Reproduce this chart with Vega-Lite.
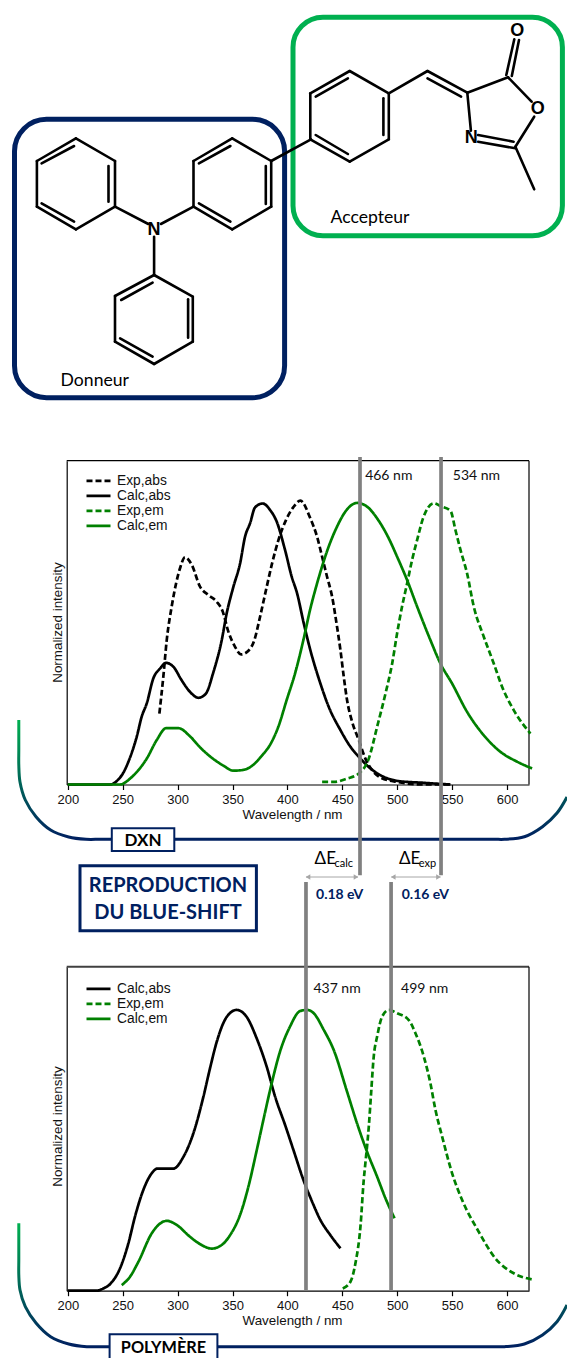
{"$schema":"https://vega.github.io/schema/vega-lite/v6.json","width":567,"height":1358,"autosize":"none","padding":0,"background":"white","config":{"view":{"stroke":null},"text":{"font":"Lato"}},
"datasets":{
"dxn":[
{"series":"Calc,abs","w":200,"v":0},{"series":"Calc,abs","w":238.5,"v":0},{"series":"Calc,abs","w":244.5,"v":0.012},{"series":"Calc,abs","w":250.6,"v":0.042},{"series":"Calc,abs","w":255.2,"v":0.081},{"series":"Calc,abs","w":262.8,"v":0.17},{"series":"Calc,abs","w":267.3,"v":0.241},{"series":"Calc,abs","w":271.9,"v":0.288},{"series":"Calc,abs","w":277.9,"v":0.377},{"series":"Calc,abs","w":284,"v":0.412},{"series":"Calc,abs","w":289.5,"v":0.432},{"series":"Calc,abs","w":296.2,"v":0.418},{"series":"Calc,abs","w":303.7,"v":0.37},{"series":"Calc,abs","w":311.3,"v":0.329},{"series":"Calc,abs","w":318.9,"v":0.308},{"series":"Calc,abs","w":325.6,"v":0.322},{"series":"Calc,abs","w":332.6,"v":0.399},{"series":"Calc,abs","w":340.2,"v":0.513},{"series":"Calc,abs","w":344.7,"v":0.608},{"series":"Calc,abs","w":350.8,"v":0.702},{"series":"Calc,abs","w":356.9,"v":0.785},{"series":"Calc,abs","w":361.4,"v":0.88},{"series":"Calc,abs","w":366,"v":0.928},{"series":"Calc,abs","w":370.5,"v":0.984},{"series":"Calc,abs","w":377.5,"v":0.998},{"series":"Calc,abs","w":384.2,"v":0.975},{"series":"Calc,abs","w":390.3,"v":0.933},{"series":"Calc,abs","w":397.9,"v":0.832},{"series":"Calc,abs","w":403.9,"v":0.738},{"series":"Calc,abs","w":408.8,"v":0.679},{"series":"Calc,abs","w":414.9,"v":0.572},{"series":"Calc,abs","w":420.9,"v":0.477},{"series":"Calc,abs","w":430,"v":0.359},{"series":"Calc,abs","w":437.6,"v":0.276},{"series":"Calc,abs","w":448.3,"v":0.193},{"series":"Calc,abs","w":457.4,"v":0.134},{"series":"Calc,abs","w":466.5,"v":0.092},{"series":"Calc,abs","w":475.6,"v":0.057},{"series":"Calc,abs","w":484.7,"v":0.033},{"series":"Calc,abs","w":499.9,"v":0.013},{"series":"Calc,abs","w":524.2,"v":0.006},{"series":"Calc,abs","w":548.5,"v":0},
{"series":"Exp,abs","w":283.4,"v":0.252},{"series":"Exp,abs","w":287,"v":0.383},{"series":"Exp,abs","w":290.1,"v":0.513},{"series":"Exp,abs","w":294.6,"v":0.632},{"series":"Exp,abs","w":298.6,"v":0.714},{"series":"Exp,abs","w":302.2,"v":0.768},{"series":"Exp,abs","w":306.8,"v":0.807},{"series":"Exp,abs","w":312.9,"v":0.78},{"series":"Exp,abs","w":320.4,"v":0.703},{"series":"Exp,abs","w":328,"v":0.673},{"series":"Exp,abs","w":335.6,"v":0.649},{"series":"Exp,abs","w":341.1,"v":0.614},{"series":"Exp,abs","w":346.2,"v":0.543},{"series":"Exp,abs","w":352.3,"v":0.489},{"series":"Exp,abs","w":357.8,"v":0.462},{"series":"Exp,abs","w":364.5,"v":0.475},{"series":"Exp,abs","w":369.9,"v":0.513},{"series":"Exp,abs","w":375.1,"v":0.596},{"series":"Exp,abs","w":381.2,"v":0.703},{"series":"Exp,abs","w":385.7,"v":0.78},{"series":"Exp,abs","w":391.8,"v":0.868},{"series":"Exp,abs","w":398.8,"v":0.94},{"series":"Exp,abs","w":405.4,"v":0.985},{"series":"Exp,abs","w":411.8,"v":1.008},{"series":"Exp,abs","w":420.9,"v":0.945},{"series":"Exp,abs","w":427,"v":0.88},{"series":"Exp,abs","w":431.6,"v":0.809},{"series":"Exp,abs","w":436.1,"v":0.738},{"series":"Exp,abs","w":440.7,"v":0.667},{"series":"Exp,abs","w":445.2,"v":0.56},{"series":"Exp,abs","w":448.3,"v":0.477},{"series":"Exp,abs","w":451.3,"v":0.383},{"series":"Exp,abs","w":454.3,"v":0.3},{"series":"Exp,abs","w":458.9,"v":0.223},{"series":"Exp,abs","w":465,"v":0.158},{"series":"Exp,abs","w":471,"v":0.092},{"series":"Exp,abs","w":477.1,"v":0.051},{"series":"Exp,abs","w":484.7,"v":0.025},{"series":"Exp,abs","w":499.9,"v":0.009},{"series":"Exp,abs","w":524.2,"v":0},{"series":"Exp,abs","w":548.5,"v":0},
{"series":"Exp,em","w":431.6,"v":0.009},{"series":"Exp,em","w":442.2,"v":0.009},{"series":"Exp,em","w":454.3,"v":0.021},{"series":"Exp,em","w":465,"v":0.039},{"series":"Exp,em","w":474.1,"v":0.092},{"series":"Exp,em","w":481.7,"v":0.205},{"series":"Exp,em","w":489.3,"v":0.323},{"series":"Exp,em","w":495.4,"v":0.43},{"series":"Exp,em","w":499.9,"v":0.537},{"series":"Exp,em","w":504.4,"v":0.632},{"series":"Exp,em","w":509,"v":0.714},{"series":"Exp,em","w":513.5,"v":0.797},{"series":"Exp,em","w":518.1,"v":0.868},{"series":"Exp,em","w":523.5,"v":0.945},{"series":"Exp,em","w":533.3,"v":0.999},{"series":"Exp,em","w":539.3,"v":0.989},{"series":"Exp,em","w":548.5,"v":0.972},{"series":"Exp,em","w":553,"v":0.904},{"series":"Exp,em","w":557.6,"v":0.833},{"series":"Exp,em","w":563.6,"v":0.75},{"series":"Exp,em","w":569.7,"v":0.632},{"series":"Exp,em","w":578.8,"v":0.525},{"series":"Exp,em","w":587.9,"v":0.43},{"series":"Exp,em","w":595.5,"v":0.347},{"series":"Exp,em","w":606.1,"v":0.264},{"series":"Exp,em","w":621.3,"v":0.181},
{"series":"Calc,em","w":200,"v":0},{"series":"Calc,em","w":247.6,"v":0},{"series":"Calc,em","w":256.7,"v":0.021},{"series":"Calc,em","w":264.3,"v":0.051},{"series":"Calc,em","w":271.9,"v":0.092},{"series":"Calc,em","w":281,"v":0.158},{"series":"Calc,em","w":289.5,"v":0.2},{"series":"Calc,em","w":300.7,"v":0.2},{"series":"Calc,em","w":311.3,"v":0.171},{"series":"Calc,em","w":320.4,"v":0.132},{"series":"Calc,em","w":329.5,"v":0.1},{"series":"Calc,em","w":341.7,"v":0.067},{"series":"Calc,em","w":350.8,"v":0.049},{"series":"Calc,em","w":359.9,"v":0.052},{"series":"Calc,em","w":369,"v":0.07},{"series":"Calc,em","w":376.6,"v":0.102},{"series":"Calc,em","w":384.2,"v":0.141},{"series":"Calc,em","w":391.8,"v":0.206},{"series":"Calc,em","w":399.4,"v":0.301},{"series":"Calc,em","w":407,"v":0.395},{"series":"Calc,em","w":414.6,"v":0.514},{"series":"Calc,em","w":420.6,"v":0.62},{"series":"Calc,em","w":427,"v":0.714},{"series":"Calc,em","w":437.6,"v":0.845},{"series":"Calc,em","w":445.2,"v":0.916},{"series":"Calc,em","w":454.3,"v":0.977},{"series":"Calc,em","w":463.4,"v":1},{"series":"Calc,em","w":472.5,"v":0.987},{"series":"Calc,em","w":481.7,"v":0.945},{"series":"Calc,em","w":492.3,"v":0.874},{"series":"Calc,em","w":499.9,"v":0.809},{"series":"Calc,em","w":509,"v":0.726},{"series":"Calc,em","w":518.1,"v":0.632},{"series":"Calc,em","w":530.2,"v":0.513},{"series":"Calc,em","w":539.3,"v":0.43},{"series":"Calc,em","w":549.9,"v":0.359},{"series":"Calc,em","w":563.6,"v":0.258},{"series":"Calc,em","w":578.8,"v":0.175},{"series":"Calc,em","w":594,"v":0.116},{"series":"Calc,em","w":609.2,"v":0.081},{"series":"Calc,em","w":622.8,"v":0.057}],
"polymer":[
{"series":"Calc,abs","w":200,"v":0},{"series":"Calc,abs","w":226.3,"v":0},{"series":"Calc,abs","w":232.4,"v":0.008},{"series":"Calc,abs","w":239.1,"v":0.026},{"series":"Calc,abs","w":247.6,"v":0.08},{"series":"Calc,abs","w":255.2,"v":0.169},{"series":"Calc,abs","w":261.2,"v":0.264},{"series":"Calc,abs","w":268.8,"v":0.359},{"series":"Calc,abs","w":276.4,"v":0.418},{"series":"Calc,abs","w":281.6,"v":0.435},{"series":"Calc,abs","w":296.2,"v":0.435},{"series":"Calc,abs","w":305.3,"v":0.477},{"series":"Calc,abs","w":314.4,"v":0.561},{"series":"Calc,abs","w":323.5,"v":0.691},{"series":"Calc,abs","w":329.5,"v":0.792},{"series":"Calc,abs","w":335.6,"v":0.886},{"series":"Calc,abs","w":344.7,"v":0.975},{"series":"Calc,abs","w":353.8,"v":1},{"series":"Calc,abs","w":362.9,"v":0.975},{"series":"Calc,abs","w":372.1,"v":0.898},{"series":"Calc,abs","w":381.2,"v":0.797},{"series":"Calc,abs","w":388.8,"v":0.691},{"series":"Calc,abs","w":397.9,"v":0.59},{"series":"Calc,abs","w":405.5,"v":0.501},{"series":"Calc,abs","w":414.6,"v":0.394},{"series":"Calc,abs","w":422.5,"v":0.317},{"series":"Calc,abs","w":430,"v":0.252},{"series":"Calc,abs","w":439.1,"v":0.198},{"series":"Calc,abs","w":448.3,"v":0.151},
{"series":"Exp,em","w":450.4,"v":0.008},{"series":"Exp,em","w":457.4,"v":0.032},{"series":"Exp,em","w":461.9,"v":0.097},{"series":"Exp,em","w":466.5,"v":0.228},{"series":"Exp,em","w":469.5,"v":0.394},{"series":"Exp,em","w":471,"v":0.454},{"series":"Exp,em","w":474.1,"v":0.584},{"series":"Exp,em","w":476.2,"v":0.703},{"series":"Exp,em","w":478.6,"v":0.834},{"series":"Exp,em","w":481.7,"v":0.905},{"series":"Exp,em","w":486.2,"v":0.976},{"series":"Exp,em","w":492.3,"v":1},{"series":"Exp,em","w":499.9,"v":0.988},{"series":"Exp,em","w":510.5,"v":0.964},{"series":"Exp,em","w":516.6,"v":0.917},{"series":"Exp,em","w":524.2,"v":0.834},{"series":"Exp,em","w":530.2,"v":0.739},{"series":"Exp,em","w":534.8,"v":0.644},{"series":"Exp,em","w":540.9,"v":0.549},{"series":"Exp,em","w":550,"v":0.418},{"series":"Exp,em","w":559.1,"v":0.323},{"series":"Exp,em","w":574.2,"v":0.21},{"series":"Exp,em","w":589.4,"v":0.115},{"series":"Exp,em","w":606.1,"v":0.062},{"series":"Exp,em","w":622.8,"v":0.04},
{"series":"Calc,em","w":249.1,"v":0.02},{"series":"Calc,em","w":256.7,"v":0.05},{"series":"Calc,em","w":264.3,"v":0.103},{"series":"Calc,em","w":276.4,"v":0.204},{"series":"Calc,em","w":282.5,"v":0.234},{"series":"Calc,em","w":290.1,"v":0.249},{"series":"Calc,em","w":299.2,"v":0.234},{"series":"Calc,em","w":311.3,"v":0.192},{"series":"Calc,em","w":320.4,"v":0.166},{"series":"Calc,em","w":331.1,"v":0.15},{"series":"Calc,em","w":340.2,"v":0.163},{"series":"Calc,em","w":347.8,"v":0.198},{"series":"Calc,em","w":356.9,"v":0.27},{"series":"Calc,em","w":364.5,"v":0.371},{"series":"Calc,em","w":372.1,"v":0.501},{"series":"Calc,em","w":378.1,"v":0.608},{"series":"Calc,em","w":385.7,"v":0.739},{"series":"Calc,em","w":393.3,"v":0.852},{"series":"Calc,em","w":402.4,"v":0.941},{"series":"Calc,em","w":411.5,"v":0.996},{"series":"Calc,em","w":417.9,"v":1},{"series":"Calc,em","w":424,"v":0.988},{"series":"Calc,em","w":433.1,"v":0.929},{"series":"Calc,em","w":442.2,"v":0.857},{"series":"Calc,em","w":454.3,"v":0.709},{"series":"Calc,em","w":463.4,"v":0.596},{"series":"Calc,em","w":472.5,"v":0.495},{"series":"Calc,em","w":481.7,"v":0.406},{"series":"Calc,em","w":489.3,"v":0.329},{"series":"Calc,em","w":497.5,"v":0.258}],
"bonds":[
{"x":75.9,"y":138.3,"x2":115,"y2":161},{"x":115,"y":161,"x2":115,"y2":206.7},{"x":115,"y":206.7,"x2":75.9,"y2":229.3},{"x":75.9,"y":229.3,"x2":36.9,"y2":206.7},{"x":36.9,"y":206.7,"x2":36.9,"y2":161},{"x":36.9,"y":161,"x2":75.9,"y2":138.3},
{"x":41.6,"y":163.3,"x2":74.1,"y2":146},{"x":108.5,"y":166,"x2":108.5,"y2":201.7},{"x":41.6,"y":203.3,"x2":74.1,"y2":221.7},
{"x":232.2,"y":138.3,"x2":271.2,"y2":161},{"x":271.2,"y":161,"x2":271.2,"y2":206.7},{"x":271.2,"y":206.7,"x2":232.2,"y2":229.3},{"x":232.2,"y":229.3,"x2":193.5,"y2":206.7},{"x":193.5,"y":206.7,"x2":193.5,"y2":161},{"x":193.5,"y":161,"x2":232.2,"y2":138.3},
{"x":198.9,"y":163.3,"x2":230.4,"y2":146},{"x":265.8,"y":166,"x2":265.8,"y2":204},{"x":198.9,"y":203.3,"x2":230.4,"y2":221.7},
{"x":115,"y":206.7,"x2":148.3,"y2":224},{"x":193.5,"y":206.7,"x2":160.9,"y2":224},{"x":154.1,"y":236.7,"x2":154.1,"y2":275},
{"x":154.1,"y":275,"x2":192.8,"y2":296.7},{"x":192.8,"y":296.7,"x2":192.8,"y2":341.7},{"x":192.8,"y":341.7,"x2":154.1,"y2":364},{"x":154.1,"y":364,"x2":115,"y2":341.7},{"x":115,"y":341.7,"x2":115,"y2":296},{"x":115,"y":296,"x2":154.1,"y2":275},
{"x":121.2,"y":300,"x2":152.6,"y2":282.7},{"x":188.1,"y":299.3,"x2":188.1,"y2":337.7},{"x":120.1,"y":338.3,"x2":152.6,"y2":356.7},
{"x":271.2,"y":161,"x2":311,"y2":139.3},
{"x":349.7,"y":71,"x2":388.8,"y2":93.3},{"x":388.8,"y":93.3,"x2":388.8,"y2":139.3},{"x":388.8,"y":139.3,"x2":349.7,"y2":161.7},{"x":349.7,"y":161.7,"x2":310.3,"y2":139.3},{"x":310.3,"y":139.3,"x2":310.3,"y2":93.3},{"x":310.3,"y":93.3,"x2":349.7,"y2":71},
{"x":315.7,"y":96.7,"x2":347.9,"y2":78.3},{"x":383.4,"y":98.3,"x2":383.4,"y2":135},{"x":315.7,"y":135,"x2":347.9,"y2":154},
{"x":388.8,"y":93.3,"x2":427.5,"y2":71},{"x":427.5,"y":71,"x2":467.3,"y2":92.7},{"x":427.5,"y":78.3,"x2":461.1,"y2":96.7},
{"x":467.3,"y":92.7,"x2":508.1,"y2":77.3},{"x":508.1,"y":77.3,"x2":531.6,"y2":101.7},{"x":534.2,"y":116.7,"x2":515.4,"y2":146.7},{"x":515.4,"y":146.7,"x2":534.2,"y2":189.3},{"x":467.3,"y":92.7,"x2":470.9,"y2":130.7},
{"x":478.1,"y":135,"x2":513.6,"y2":141.7},{"x":478.1,"y":141.7,"x2":515.4,"y2":148.3},
{"x":506.3,"y":75,"x2":514.3,"y2":39.3},{"x":511.8,"y":76,"x2":519,"y2":40}],
"brackets":[
{"b":"DXN","i":0,"x":18.8,"y":720},{"b":"DXN","i":1,"x":18.8,"y":735},{"b":"DXN","i":2,"x":18.8,"y":750},{"b":"DXN","i":3,"x":18.8,"y":765},{"b":"DXN","i":4,"x":20,"y":782},{"b":"DXN","i":5,"x":25.3,"y":800},{"b":"DXN","i":6,"x":36,"y":816.7},{"b":"DXN","i":7,"x":50.6,"y":830},{"b":"DXN","i":8,"x":68.7,"y":837},{"b":"DXN","i":9,"x":86,"y":839.3},{"b":"DXN","i":10,"x":100,"y":839.3},{"b":"DXN","i":11,"x":115,"y":839.3},{"b":"DXN","i":12,"x":300,"y":839.3},{"b":"DXN","i":13,"x":480,"y":839.3},{"b":"DXN","i":14,"x":495,"y":839.3},{"b":"DXN","i":15,"x":504.5,"y":839.3},{"b":"DXN","i":16,"x":524.4,"y":836.7},{"b":"DXN","i":17,"x":542.5,"y":826.7},{"b":"DXN","i":18,"x":557,"y":813},{"b":"DXN","i":19,"x":567,"y":797},
{"b":"POL","i":0,"x":18.8,"y":1223.3},{"b":"POL","i":1,"x":18.8,"y":1240},{"b":"POL","i":2,"x":18.8,"y":1260},{"b":"POL","i":3,"x":18.8,"y":1275},{"b":"POL","i":4,"x":20,"y":1290},{"b":"POL","i":5,"x":25.3,"y":1306.7},{"b":"POL","i":6,"x":36,"y":1323},{"b":"POL","i":7,"x":50.6,"y":1336.7},{"b":"POL","i":8,"x":68.7,"y":1344},{"b":"POL","i":9,"x":86.8,"y":1346.7},{"b":"POL","i":10,"x":100,"y":1346.7},{"b":"POL","i":11,"x":115,"y":1346.7},{"b":"POL","i":12,"x":300,"y":1346.7},{"b":"POL","i":13,"x":480,"y":1346.7},{"b":"POL","i":14,"x":495,"y":1346.7},{"b":"POL","i":15,"x":504.5,"y":1346.7},{"b":"POL","i":16,"x":524.4,"y":1344},{"b":"POL","i":17,"x":542.5,"y":1335},{"b":"POL","i":18,"x":557,"y":1321.7},{"b":"POL","i":19,"x":567,"y":1305}]
},
"resolve":{"scale":{"x":"independent","y":"independent","color":"independent","strokeDash":"independent"},"axis":{"x":"independent","y":"independent"},"legend":{"color":"independent","strokeDash":"independent"}},
"layer":[
{"encoding":{"x":{"field":"x","type":"quantitative","scale":{"domain":[0,567],"range":[0,567],"nice":false,"zero":false},"axis":null},"y":{"field":"y","type":"quantitative","scale":{"domain":[0,1358],"range":[0,1358],"nice":false,"zero":false},"axis":null}},
"layer":[
{"data":{"values":[{"x":14.5,"x2":284.6,"y":119.3,"y2":397.7}]},"mark":{"type":"rect","fill":null,"fillOpacity":0,"stroke":"#002060","strokeWidth":5,"cornerRadius":32},"encoding":{"x2":{"field":"x2"},"y2":{"field":"y2"}}},
{"data":{"values":[{"x":293,"x2":562.4,"y":17.3,"y2":235.7}]},"mark":{"type":"rect","fill":null,"fillOpacity":0,"stroke":"#00B050","strokeWidth":5,"cornerRadius":30},"encoding":{"x2":{"field":"x2"},"y2":{"field":"y2"}}},
{"data":{"name":"bonds"},"mark":{"type":"rule","stroke":"black","strokeWidth":2.6,"strokeCap":"round"},"encoding":{"x2":{"field":"x2"},"y2":{"field":"y2"}}},
{"data":{"values":[{"x":154,"y":230,"label":"N"},{"x":471.3,"y":138.3,"label":"N"},{"x":537.8,"y":109,"label":"O"},{"x":517.2,"y":31,"label":"O"}]},"mark":{"type":"text","font":"Liberation Sans","fontWeight":"bold","fontSize":18,"align":"center","baseline":"middle","fill":"black"},"encoding":{"text":{"field":"label"}}},
{"data":{"values":[{"x":94.8,"y":380.7,"label":"Donneur"},{"x":370,"y":218.3,"label":"Accepteur"}]},"mark":{"type":"text","fontSize":17.6,"align":"center","baseline":"middle","fill":"black"},"encoding":{"text":{"field":"label"}}},
{"data":{"name":"brackets"},"mark":{"type":"line","interpolate":"catmull-rom","strokeWidth":3,"stroke":{"gradient":"linear","x1":0,"y1":0,"x2":0,"y2":1,"stops":[{"offset":0,"color":"#00B050"},{"offset":1,"color":"#002060"}]}},"encoding":{"detail":{"field":"b"},"order":{"field":"i"}}},
{"data":{"values":[{"x":111.8,"x2":174.3,"y":828.3,"y2":851},{"x":109.6,"x2":217.4,"y":1334.3,"y2":1366}]},"mark":{"type":"rect","fill":"white","stroke":"#002060","strokeWidth":2},"encoding":{"x2":{"field":"x2"},"y2":{"field":"y2"}}},
{"data":{"values":[{"x":143,"y":841,"label":"DXN"}]},"mark":{"type":"text","fontWeight":"bold","fontSize":17,"align":"center","baseline":"middle","fill":"black"},"encoding":{"text":{"field":"label"}}},
{"data":{"values":[{"x":163.5,"y":1348,"label":"POLYMÈRE"}]},"mark":{"type":"text","fontWeight":"bold","fontSize":16.3,"align":"center","baseline":"middle","fill":"black"},"encoding":{"text":{"field":"label"}}},
{"data":{"values":[{"x":80,"x2":256.4,"y":865.7,"y2":930.7}]},"mark":{"type":"rect","fill":"white","stroke":"#002060","strokeWidth":3},"encoding":{"x2":{"field":"x2"},"y2":{"field":"y2"}}},
{"data":{"values":[{"x":168,"y":885.5,"label":"REPRODUCTION"},{"x":168,"y":913,"label":"DU BLUE-SHIFT"}]},"mark":{"type":"text","fontWeight":"bold","fontSize":20,"align":"center","baseline":"middle","fill":"#002060"},"encoding":{"text":{"field":"label"}}},
{"data":{"values":[{"x":339.6,"y":895,"label":"0.18 eV"},{"x":425.3,"y":895,"label":"0.16 eV"}]},"mark":{"type":"text","fontWeight":"bold","fontSize":14,"align":"center","baseline":"middle","fill":"#002060"},"encoding":{"text":{"field":"label"}}},
{"data":{"values":[{"x":314.6,"y":859.3,"label":"ΔE"},{"x":399,"y":859.3,"label":"ΔE"}]},"mark":{"type":"text","fontSize":17,"align":"left","baseline":"middle","fill":"black"},"encoding":{"text":{"field":"label"}}},
{"data":{"values":[{"x":334.5,"y":864,"label":"calc"},{"x":418.8,"y":864,"label":"exp"}]},"mark":{"type":"text","fontSize":11,"align":"left","baseline":"middle","fill":"black"},"encoding":{"text":{"field":"label"}}},
{"data":{"values":[{"x":306,"x2":358,"y":877},{"x":391.3,"x2":440.5,"y":877}]},"mark":{"type":"rule","stroke":"#A6A6A6","strokeWidth":1},"encoding":{"x2":{"field":"x2"}}},
{"data":{"values":[{"x":308,"y":877},{"x":393.3,"y":877}]},"mark":{"type":"point","shape":"triangle-left","filled":true,"fill":"#A6A6A6","size":28,"opacity":1}},
{"data":{"values":[{"x":356,"y":877},{"x":438.5,"y":877}]},"mark":{"type":"point","shape":"triangle-right","filled":true,"fill":"#A6A6A6","size":28,"opacity":1}}
]},
{"encoding":{"x":{"field":"w","type":"quantitative","scale":{"domain":[199,620],"range":[66.7,529],"nice":false,"zero":false},"axis":{"orient":"bottom","offset":-573.5,"values":[200,250,300,350,400,450,500,550,600],"grid":false,"title":"Wavelength / nm","titleFont":"Liberation Sans","titleFontSize":13.4,"titleFontWeight":"normal","titleColor":"#111111","titleX":292,"titleY":29.5,"titleBaseline":"middle","labelFont":"Liberation Sans","labelFontSize":13,"labelColor":"#111111","labelPadding":4,"labelFlush":false,"labelOverlap":false,"tickSize":5,"tickColor":"black","tickWidth":1.2,"domainColor":"black","domainWidth":1.2}},"y":{"field":"v","type":"quantitative","scale":{"domain":[0,1.15],"range":[784.5,460.7],"nice":false,"zero":false},"axis":{"orient":"left","offset":-66.7,"values":[],"grid":false,"ticks":false,"labels":false,"title":"Normalized intensity","titleFont":"Liberation Sans","titleFontSize":13.4,"titleFontWeight":"normal","titleColor":"#111111","titleX":-9.4,"titleY":622,"titleAlign":"center","titleBaseline":"middle","domainColor":"black","domainWidth":1.2}}},
"layer":[
{"data":{"values":[{"w":199,"w2":620,"v":1.15}]},"mark":{"type":"rule","stroke":"black","strokeWidth":1.2},"encoding":{"x2":{"field":"w2"}}},
{"data":{"values":[{"w":620,"v":0,"v2":1.15}]},"mark":{"type":"rule","stroke":"black","strokeWidth":1.2},"encoding":{"y2":{"field":"v2"}}},
{"data":{"name":"dxn"},"mark":{"type":"line","strokeWidth":2.7,"interpolate":"monotone","clip":false},"encoding":{"color":{"field":"series","type":"nominal","scale":{"domain":["Exp,abs","Calc,abs","Exp,em","Calc,em"],"range":["black","black","#008000","#008000"]},"legend":{"orient":"none","legendX":85,"legendY":473.5,"title":null,"symbolType":"stroke","symbolSize":576,"symbolStrokeWidth":2.8,"clipHeight":14.67,"rowPadding":0,"labelFont":"Liberation Sans","labelFontSize":13.8,"labelColor":"#111111","labelOffset":5,"padding":0}},"strokeDash":{"field":"series","type":"nominal","scale":{"domain":["Exp,abs","Calc,abs","Exp,em","Calc,em"],"range":[[6,3],[1,0],[6,3],[1,0]]},"legend":{"orient":"none","legendX":85,"legendY":473.5,"title":null,"symbolType":"stroke","symbolSize":576,"symbolStrokeWidth":2.8,"clipHeight":14.67,"rowPadding":0,"labelFont":"Liberation Sans","labelFontSize":13.8,"labelColor":"#111111","labelOffset":5,"padding":0}}}},
{"data":{"values":[{"w":466.1,"v":-0.322,"v2":1.1635},{"w":539.9,"v":-0.322,"v2":1.1635}]},"mark":{"type":"rule","stroke":"#808080","strokeWidth":3.7},"encoding":{"y2":{"field":"v2"}}},
{"data":{"values":[{"w":492.3,"v":1.096,"label":"466 nm"},{"w":572.1,"v":1.096,"label":"534 nm"}]},"mark":{"type":"text","fontSize":14,"align":"center","baseline":"middle","fill":"#111111"},"encoding":{"text":{"field":"label"}}}
]},
{"encoding":{"x":{"field":"w","type":"quantitative","scale":{"domain":[199,620],"range":[66.7,529],"nice":false,"zero":false},"axis":{"orient":"bottom","offset":-67.3,"values":[200,250,300,350,400,450,500,550,600],"grid":false,"title":"Wavelength / nm","titleFont":"Liberation Sans","titleFontSize":13.4,"titleFontWeight":"normal","titleColor":"#111111","titleX":292,"titleY":29.5,"titleBaseline":"middle","labelFont":"Liberation Sans","labelFontSize":13,"labelColor":"#111111","labelPadding":4,"labelFlush":false,"labelOverlap":false,"tickSize":5,"tickColor":"black","tickWidth":1.2,"domainColor":"black","domainWidth":1.2}},"y":{"field":"v","type":"quantitative","scale":{"domain":[0,1.154],"range":[1290.7,966.7],"nice":false,"zero":false},"axis":{"orient":"left","offset":-66.7,"values":[],"grid":false,"ticks":false,"labels":false,"title":"Normalized intensity","titleFont":"Liberation Sans","titleFontSize":13.4,"titleFontWeight":"normal","titleColor":"#111111","titleX":-9.4,"titleY":1126,"titleAlign":"center","titleBaseline":"middle","domainColor":"black","domainWidth":1.2}}},
"layer":[
{"data":{"values":[{"w":199,"w2":620,"v":1.154}]},"mark":{"type":"rule","stroke":"#404040","strokeWidth":2},"encoding":{"x2":{"field":"w2"}}},
{"data":{"values":[{"w":620,"v":0,"v2":1.154}]},"mark":{"type":"rule","stroke":"black","strokeWidth":1.2},"encoding":{"y2":{"field":"v2"}}},
{"data":{"name":"polymer"},"mark":{"type":"line","strokeWidth":2.7,"interpolate":"monotone","clip":false},"encoding":{"color":{"field":"series","type":"nominal","scale":{"domain":["Calc,abs","Exp,em","Calc,em"],"range":["black","#008000","#008000"]},"legend":{"orient":"none","legendX":85,"legendY":981.5,"title":null,"symbolType":"stroke","symbolSize":576,"symbolStrokeWidth":2.8,"clipHeight":14.67,"rowPadding":0,"labelFont":"Liberation Sans","labelFontSize":13.8,"labelColor":"#111111","labelOffset":5,"padding":0}},"strokeDash":{"field":"series","type":"nominal","scale":{"domain":["Calc,abs","Exp,em","Calc,em"],"range":[[1,0],[6,3],[1,0]]},"legend":{"orient":"none","legendX":85,"legendY":981.5,"title":null,"symbolType":"stroke","symbolSize":576,"symbolStrokeWidth":2.8,"clipHeight":14.67,"rowPadding":0,"labelFont":"Liberation Sans","labelFontSize":13.8,"labelColor":"#111111","labelOffset":5,"padding":0}}}},
{"data":{"values":[{"w":416.9,"v":0,"v2":1.456},{"w":494.4,"v":0,"v2":1.456}]},"mark":{"type":"rule","stroke":"#808080","strokeWidth":3.7},"encoding":{"y2":{"field":"v2"}}},
{"data":{"values":[{"w":445.2,"v":1.074,"label":"437 nm"},{"w":525,"v":1.074,"label":"499 nm"}]},"mark":{"type":"text","fontSize":14,"align":"center","baseline":"middle","fill":"#111111"},"encoding":{"text":{"field":"label"}}}
]}
]}
